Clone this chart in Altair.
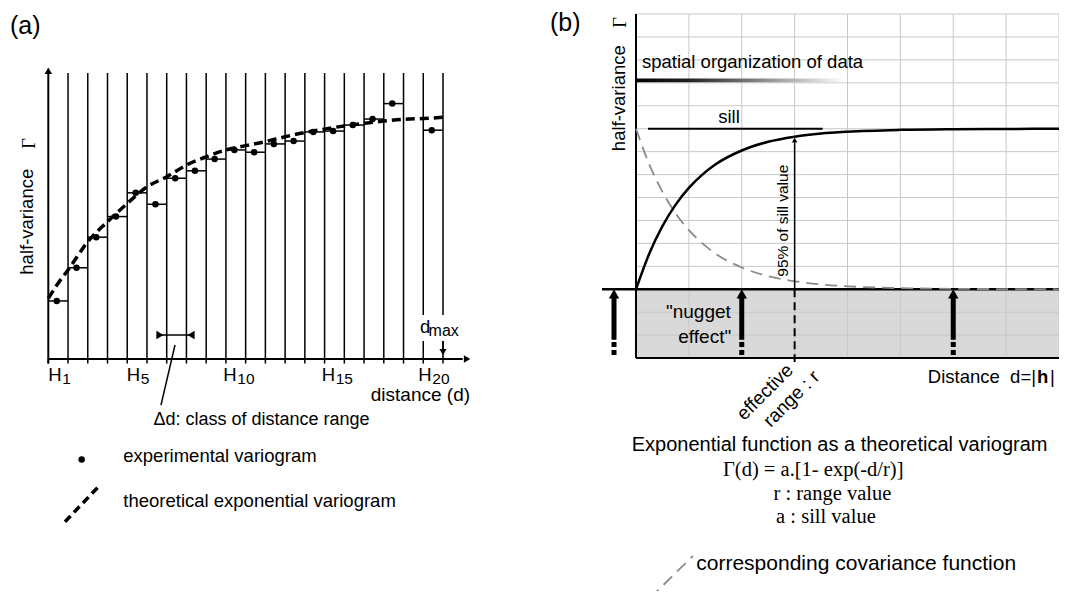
import altair as alt
import pandas as pd

W, H = 1051, 583
SANS = "Liberation Sans"
SERIF = "Liberation Serif"

# ---------------- Panel (a) data ----------------
bin_index = list(range(1, 21))
bin_values = [0.203, 0.319, 0.426, 0.498, 0.581, 0.541, 0.632, 0.658, 0.699, 0.731,
              0.723, 0.752, 0.762, 0.794, 0.797, 0.818, 0.839, 0.893, None, 0.800]
curve_a_x = [0, 0.5, 1, 2, 3, 4, 5, 6, 7, 8, 9, 10, 11, 12, 13, 14, 15, 16, 17, 18, 19, 20]
curve_a_y = [0.212, 0.265, 0.311, 0.41, 0.48, 0.544, 0.602, 0.637, 0.678, 0.707, 0.731, 0.746,
             0.76, 0.777, 0.792, 0.804, 0.815, 0.824, 0.832, 0.838, 0.841, 0.845]
h_label_pos = [0, 3.97, 8.87, 13.85, 18.75]
h_label_sub = ["1", "5", "10", "15", "20"]

# ---------------- Panel (b) data ----------------
dist_b = [0, 0.25, 0.5, 0.75, 1, 1.25, 1.5, 2, 2.5, 3, 3.5, 4, 5, 6, 7, 8]
gamma_b = [0, 1.55, 2.75, 3.69, 4.42, 4.99, 5.44, 6.05, 6.43, 6.65, 6.79, 6.87, 6.95, 6.98, 6.99, 7.0]
cov_b = [7, 5.45, 4.25, 3.31, 2.58, 2.01, 1.56, 0.95, 0.57, 0.35, 0.21, 0.13, 0.05, 0.02, 0.01, 0.0]
sill_value = 7
effective_range = 3
nugget_arrows = [-0.416, 2, 6]

# ---------------- frames (plot-area pixels) ----------------
def frame(zero_x, unit_x, zero_y, unit_y):
    sx = alt.Scale(domain=[-zero_x / unit_x, (W - zero_x) / unit_x], nice=False, zero=False)
    sy = alt.Scale(domain=[-(H - zero_y) / unit_y, zero_y / unit_y], nice=False, zero=False)
    return sx, sy

AX, AY = frame(40.3, 19.735, 351.0, 286.0)
BX, BY = frame(628.0, 52.875, 281.3, 22.94)


def enc(ch, sx, sy, x2=False, y2=False):
    e = dict(x=alt.X("x:Q", scale=sx, axis=None), y=alt.Y("y:Q", scale=sy, axis=None))
    if x2:
        e["x2"] = "x2:Q"
    if y2:
        e["y2"] = "y2:Q"
    return ch.encode(**e)


def rules(rows, sx, sy, **props):
    df = pd.DataFrame(rows, columns=["x", "y", "x2", "y2"])
    return enc(alt.Chart(df).mark_rule(**props), sx, sy, True, True)


def texts(rows, sx, sy, **props):
    df = pd.DataFrame(rows, columns=["x", "y", "t"])
    p = dict(font=SANS, fontSize=18.5, color="black")
    p.update(props)
    return enc(alt.Chart(df).mark_text(**p), sx, sy).encode(text="t:N")


def symbols(rows, sx, sy, shape, size, color="black"):
    df = pd.DataFrame(rows, columns=["x", "y"])
    return enc(alt.Chart(df).mark_point(shape=shape, size=size, filled=True, color=color,
                                         opacity=1, strokeWidth=0), sx, sy)


# ================= Panel (a) =================
a_layers = []
a_lines = [[i, 0, i, 1.0] for i in bin_index]
a_layers.append(rules(a_lines, AX, AY, color="black", strokeWidth=1.5))
box = pd.DataFrame({"x": [18.8], "x2": [21.0], "y": [0.063], "y2": [0.154]})
a_layers.append(enc(alt.Chart(box).mark_rect(color="white"), AX, AY, True, True))
# ticks
a_layers.append(rules([[i, 0, i, -0.016] for i in range(0, 21)], AX, AY, color="black", strokeWidth=1.5))
# axes
a_layers.append(rules([[0, 0, 21.0, 0], [0, -0.016, 0, 1.0]], AX, AY, color="black", strokeWidth=2))
a_layers.append(symbols([[21.22, 0]], AX, AY, "triangle-right", 55))
a_layers.append(symbols([[0, 1.008]], AX, AY, "triangle-up", 55))
# horizontal class segments
seg = [[i - 1, v, i, v] for i, v in zip(bin_index, bin_values) if v is not None]
a_layers.append(rules(seg, AX, AY, color="black", strokeWidth=1.5))
# theoretical curve
cdf = pd.DataFrame({"x": curve_a_x, "y": curve_a_y})
a_layers.append(enc(alt.Chart(cdf).mark_line(color="black", strokeWidth=3.5, strokeDash=[9, 5],
                                              interpolate="monotone"), AX, AY))
# experimental points
pts = [[i - 0.57, v] for i, v in zip(bin_index, bin_values) if v is not None]
pdf = pd.DataFrame(pts, columns=["x", "y"])
a_layers.append(enc(alt.Chart(pdf).mark_circle(size=42, color="black", opacity=1), AX, AY))
# delta-d marker
a_layers.append(rules([[5.56, 0.084, 7.33, 0.084], [6.42, 0.049, 5.71, -0.161]], AX, AY,
                      color="black", strokeWidth=1.5))
a_layers.append(symbols([[5.66, 0.084]], AX, AY, "triangle-right", 70))
a_layers.append(symbols([[7.23, 0.084]], AX, AY, "triangle-left", 70))
# d_max arrow
a_layers.append(rules([[20, 0.063, 20, 0.035]], AX, AY, color="black", strokeWidth=1.5))
a_layers.append(symbols([[20, 0.024]], AX, AY, "triangle-down", 50))
# texts
a_layers.append(texts([[18.83, 0.091, "d"]], AX, AY, align="left", baseline="alphabetic", fontSize=18.5))
a_layers.append(texts([[19.27, 0.080, "max"]], AX, AY, align="left", baseline="alphabetic", fontSize=16))
a_layers.append(texts([[p, -0.077, "H"] for p in h_label_pos], AX, AY, align="left",
                      baseline="alphabetic", fontSize=18.5))
a_layers.append(texts([[p, -0.088, s] for p, s in zip(h_label_pos, h_label_sub)], AX, AY,
                      align="left", baseline="alphabetic", fontSize=15.5, dx=14))
a_layers.append(texts([[21.37, -0.147, "distance (d)"]], AX, AY, align="right", baseline="alphabetic",
                      fontSize=19))
a_layers.append(texts([[10.8, -0.231, "\u0394d: class of distance range"]], AX, AY, align="center",
                      baseline="alphabetic", fontSize=18))
a_layers.append(texts([[-1.054, 0.480, "half-variance"]], AX, AY, angle=270, align="center",
                      baseline="middle"))
a_layers.append(texts([[-0.98, 0.754, "\u0393"]], AX, AY, angle=270, align="center", baseline="middle",
                      font=SERIF))
a_layers.append(texts([[-1.94, 1.136, "(a)"]], AX, AY, align="left", baseline="alphabetic", fontSize=25))
# legend
a_layers.append(enc(alt.Chart(pd.DataFrame({"x": [1.69], "y": [-0.351]})).mark_circle(
    size=42, color="black", opacity=1), AX, AY))
a_layers.append(rules([[0.846, -0.569, 2.62, -0.441]], AX, AY, color="black", strokeWidth=3.5,
                      strokeDash=[8, 5]))
a_layers.append(texts([[3.8, -0.359, "experimental variogram"],
                       [3.8, -0.516, "theoretical exponential variogram"]], AX, AY, align="left",
                      baseline="alphabetic"))
panel_a = alt.layer(*a_layers)

# ================= Panel (b) =================
b_layers = []
gray = pd.DataFrame({"x": [0], "x2": [8], "y": [-3], "y2": [0]})
b_layers.append(enc(alt.Chart(gray).mark_rect(color="#d9d9d9"), BX, BY, True, True))
grid = [[i, -3, i, 12] for i in range(1, 9)] + [[0, j, 8, j] for j in range(-2, 13) if j != 0]
b_layers.append(rules(grid, BX, BY, color="#c8c8c8", strokeWidth=1))
b_layers.append(rules([[0, -3, 0, 12], [0, -3, 8, -3]], BX, BY, color="black", strokeWidth=2))
b_layers.append(rules([[-0.643, 0, 8, 0]], BX, BY, color="black", strokeWidth=2.5))
# sill
b_layers.append(rules([[0.227, sill_value, 3.53, sill_value]], BX, BY, color="black", strokeWidth=2))
# gradient bar
grad = pd.DataFrame({"x": [0], "x2": [3.95], "y": [9.03], "y2": [9.19]})
b_layers.append(enc(alt.Chart(grad).mark_rect(fill=alt.LinearGradient(
    gradient="linear", x1=0, x2=1, y1=0, y2=0,
    stops=[alt.GradientStop(color="#000000", offset=0), alt.GradientStop(color="#222222", offset=0.25),
           alt.GradientStop(color="#ffffff", offset=1)])), BX, BY, True, True))
# covariance (dashed gray) and variogram (solid)
bdf = pd.DataFrame({"x": dist_b, "g": gamma_b, "c": cov_b})
b_layers.append(alt.Chart(bdf).mark_line(color="#8a8a8a", strokeWidth=1.8, strokeDash=[12, 7],
                                         interpolate="monotone").encode(
    x=alt.X("x:Q", scale=BX, axis=None), y=alt.Y("c:Q", scale=BY, axis=None)))
b_layers.append(alt.Chart(bdf).mark_line(color="black", strokeWidth=2.5, interpolate="monotone").encode(
    x=alt.X("x:Q", scale=BX, axis=None), y=alt.Y("g:Q", scale=BY, axis=None)))
# 95% arrow and effective range dashed line
b_layers.append(rules([[effective_range, 0, effective_range, 6.4]], BX, BY, color="black", strokeWidth=1.5))
b_layers.append(symbols([[effective_range, 6.5]], BX, BY, "triangle-up", 30))
b_layers.append(rules([[effective_range, 0, effective_range, -3.17]], BX, BY, color="black",
                      strokeWidth=2, strokeDash=[8, 5]))
# nugget arrows
b_layers.append(rules([[x, -0.3, x, -2.2] for x in nugget_arrows], BX, BY, color="black", strokeWidth=5))
b_layers.append(rules([[x, -2.3, x, -3.0] for x in nugget_arrows], BX, BY, color="black", strokeWidth=5,
                      strokeDash=[5, 3]))
b_layers.append(symbols([[x, -0.2] for x in nugget_arrows], BX, BY, "triangle-up", 110))
# texts
b_layers.append(texts([[-1.626, 11.25, "(b)"]], BX, BY, align="left", baseline="alphabetic", fontSize=25))
b_layers.append(texts([[-0.32, 8.33, "half-variance"]], BX, BY, angle=270, align="center", baseline="middle"))
b_layers.append(texts([[-0.30, 11.63, "\u0393"]], BX, BY, angle=270, align="center", baseline="middle",
                      font=SERIF))
b_layers.append(texts([[0.113, 9.63, "spatial organization of data"]], BX, BY, align="left",
                      baseline="alphabetic"))
b_layers.append(texts([[1.76, 7.24, "sill"]], BX, BY, align="center", baseline="alphabetic"))
b_layers.append(texts([[2.78, 2.99, "95% of sill value"]], BX, BY, angle=270, align="center",
                      baseline="middle", fontSize=15.5))
b_layers.append(texts([[1.18, -1.27, "\"nugget"], [1.30, -2.35, "effect\""]], BX, BY, align="center",
                      baseline="alphabetic", fontSize=19))
b_layers.append(texts([[2.44, -4.48, "effective"], [2.94, -4.77, "range : r"]], BX, BY, angle=315,
                      align="center", baseline="middle", fontSize=19))
b_layers.append(texts([[7.565, -4.10, "Distance\u00a0\u00a0d=|"]], BX, BY, align="right",
                      baseline="alphabetic"))
b_layers.append(texts([[7.584, -4.10, "h"]], BX, BY, align="left", baseline="alphabetic", fontWeight="bold"))
b_layers.append(texts([[7.83, -4.10, "|"]], BX, BY, align="left", baseline="alphabetic"))
b_layers.append(texts([[3.85, -7.05, "Exponential function as a theoretical variogram"]], BX, BY,
                      align="center", baseline="alphabetic", fontSize=20))
b_layers.append(texts([[1.645, -8.14, "\u0393(d) = a.[1- exp(-d/r)]"],
                       [2.6, -9.19, "r : range value"],
                       [2.65, -10.19, "a : sill value"]], BX, BY, align="left", baseline="alphabetic",
                      font=SERIF, fontSize=20.5))
b_layers.append(rules([[0.265, -13.46, 1.078, -11.62]], BX, BY, color="#8a8a8a", strokeWidth=1.8,
                      strokeDash=[12, 7]))
b_layers.append(texts([[1.14, -12.22, "corresponding covariance function"]], BX, BY, align="left",
                      baseline="alphabetic", fontSize=21))
panel_b = alt.layer(*b_layers)

chart = alt.layer(panel_a, panel_b).resolve_scale(x="independent", y="independent").properties(
    width=W, height=H, autosize=alt.AutoSizeParams(type="none"), padding=0,
    background="white").configure_view(stroke=None)

chart.save("out.html", embed_options={"renderer": "svg", "actions": False})
